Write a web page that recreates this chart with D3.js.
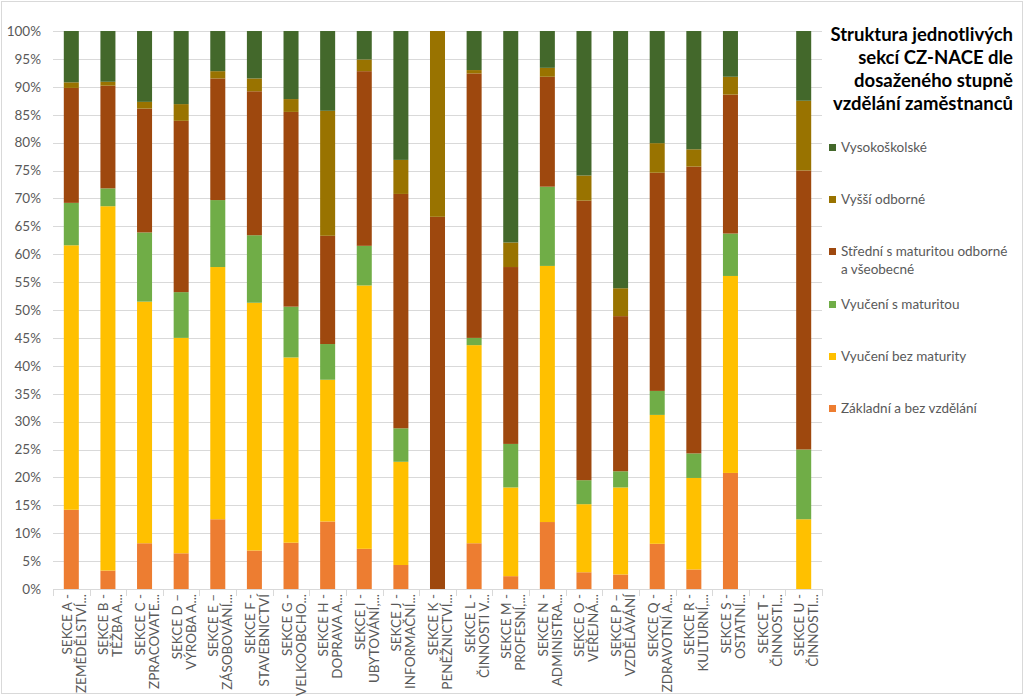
<!DOCTYPE html>
<html><head><meta charset="utf-8">
<script src="https://cdnjs.cloudflare.com/ajax/libs/d3/7.8.5/d3.min.js"></script>
<style>
html,body{margin:0;padding:0;background:#fff;}
svg{display:block;font-family:Lato,"Open Sans",sans-serif;}
</style></head>
<body><svg id="c" width="1024" height="696"></svg>
<script>
// categories (CZ-NACE sections) and their two-line axis labels
const codes = ["A","B","C","D","E","F","G","H","I","J","K","L","M","N","O","P","Q","R","S","T","U"];
const labelLine1 = ["SEKCE A -","SEKCE B -","SEKCE C -","SEKCE D –","SEKCE E –","SEKCE F -","SEKCE G -","SEKCE H -","SEKCE I -","SEKCE J -","SEKCE K -","SEKCE L -","SEKCE M -","SEKCE N -","SEKCE O -","SEKCE P –","SEKCE Q -","SEKCE R -","SEKCE S -","SEKCE T -","SEKCE U -"];
const labelLine2 = ["ZEMĚDĚLSTVÍ...","TĚŽBA A...","ZPRACOVATE...","VÝROBA A...","ZÁSOBOVÁNÍ...","STAVEBNICTVÍ","VELKOOBCHO...","DOPRAVA A...","UBYTOVÁNÍ,...","INFORMAČNÍ...","PENĚŽNICTVÍ...","ČINNOSTI V...","PROFESNÍ,...","ADMINISTRA...","VEŘEJNÁ...","VZDĚLÁVÁNÍ","ZDRAVOTNÍ A...","KULTURNÍ,...","OSTATNÍ...","ČINNOSTI...","ČINNOSTI..."];

// series values (percent), stacked bottom to top
const zakladni      = [14.2, 3.3, 8.2, 6.4,12.5, 6.9, 8.3,12.1, 7.2, 4.3, 0.0, 8.2, 2.3,12.0, 3.0, 2.6, 8.1, 3.5,20.8,0, 0.0];
const vyuceniBez    = [47.4,65.3,43.3,38.6,45.2,44.4,33.2,25.4,47.2,18.5, 0.0,35.5,15.9,45.9,12.2,15.6,23.1,16.4,35.3,0,12.5];
const vyuceniS      = [ 7.6, 3.2,12.4, 8.2,12.0,12.1, 9.1, 6.4, 7.1, 6.0, 0.0, 1.3, 7.8,14.2, 4.3, 2.9, 4.3, 4.4, 7.6,0,12.5];
const stredni       = [20.6,18.4,22.2,30.7,21.8,25.8,34.9,19.4,31.3,42.0,66.7,47.4,31.7,19.7,50.1,27.8,39.1,51.4,24.9,0,50.0];
const vyssi         = [ 1.0, 0.7, 1.2, 3.0, 1.3, 2.3, 2.3,22.4, 2.1, 6.1,33.3, 0.6, 4.4, 1.6, 4.5, 5.0, 5.3, 3.1, 3.2,0,12.5];
const vysokoskolske = [ 9.2, 9.1,12.7,13.1, 7.2, 8.5,12.2,14.3, 5.1,23.1, 0.0, 7.0,37.9, 6.6,25.9,46.1,20.1,21.2, 8.2,0,12.5];

const seriesNames = ["Základní a bez vzdělání","Vyučení bez maturity","Vyučení s maturitou","Střední s maturitou odborné a všeobecné","Vyšší odborné","Vysokoškolské"];
const seriesColors = ["#ED7D31","#FFC000","#70AD47","#9E480E","#997300","#43682B"];
const yTicks = [0,0.05,0.10,0.15,0.20,0.25,0.30,0.35,0.40,0.45,0.50,0.55,0.60,0.65,0.70,0.75,0.80,0.85,0.90,0.95,1.0];
const titleLines = ["Struktura jednotlivých","sekcí CZ-NACE dle","dosaženého stupně","vzdělání zaměstnanců"];

const seriesArrays = [zakladni, vyuceniBez, vyuceniS, stredni, vyssi, vysokoskolske];
const rows = codes.map((c,i)=>{ const r={code:c}; seriesNames.forEach((s,k)=>r[s]=seriesArrays[k][i]); return r; });

const svg = d3.select("#c");
const textCol = "#595959";
const pLeft=53, pRight=822, pTop=31, pBottom=589;

svg.append("rect").attr("x",1.5).attr("y",1.5).attr("width",1021).attr("height",692)
  .attr("fill","#fff").attr("stroke","#d9d9d9");

const x = d3.scaleBand().domain(codes).range([pLeft,pRight]).paddingInner(0.59).paddingOuter(0.295);
const y = d3.scaleLinear().domain([0,1]).range([pBottom,pTop]);

// gridlines
svg.append("g").selectAll("line").data(yTicks.slice(1)).join("line")
  .attr("x1",pLeft).attr("x2",pRight)
  .attr("y1",d=>Math.round(y(d))+0.5).attr("y2",d=>Math.round(y(d))+0.5)
  .attr("stroke","#d9d9d9").attr("stroke-width",1);

// y axis labels
const yAxis = d3.axisLeft(y).tickValues(yTicks).tickFormat(d3.format(".0%")).tickSize(0).tickPadding(0);
const yg = svg.append("g").attr("transform",`translate(41,0)`).call(yAxis);
yg.select(".domain").remove();
yg.selectAll("text").attr("font-size",13.5).attr("fill",textCol).attr("font-family","Lato");

// stacked bars
const stack = d3.stack().keys(seriesNames).value((d,k)=>d[k]/100);
const stacked = stack(rows);
svg.append("g").selectAll("g").data(stacked).join("g")
  .attr("fill",(d,i)=>seriesColors[i])
  .selectAll("rect").data(d=>d).join("rect")
  .attr("x",d=>x(d.data.code))
  .attr("width",x.bandwidth())
  .attr("y",d=>y(d[1]))
  .attr("height",d=>Math.max(0,y(d[0])-y(d[1])));

// x axis line and ticks at category boundaries
svg.append("line").attr("x1",pLeft).attr("x2",pRight).attr("y1",pBottom+0.5).attr("y2",pBottom+0.5)
  .attr("stroke","#d9d9d9");
const step = x.step();
const bounds = d3.range(codes.length+1).map(i=>pLeft + i*step);
svg.append("g").selectAll("line").data(bounds).join("line")
  .attr("x1",d=>Math.round(d)+0.5).attr("x2",d=>Math.round(d)+0.5)
  .attr("y1",pBottom).attr("y2",pBottom+7).attr("stroke","#d9d9d9");

// category labels (rotated)
const lg = svg.append("g").selectAll("g").data(codes).join("g")
  .attr("transform",d=>`translate(${x(d)+x.bandwidth()/2},594) rotate(-90)`);
lg.append("text").attr("y",-4.5).attr("dominant-baseline","central").attr("text-anchor","end")
  .attr("font-size",13.5).attr("fill",textCol).text((d,i)=>labelLine1[i]);
lg.append("text").attr("y",9.5).attr("dominant-baseline","central").attr("text-anchor","end")
  .attr("font-size",13.5).attr("fill",textCol).text((d,i)=>labelLine2[i]);

// title
svg.append("g").selectAll("text").data(titleLines).join("text")
  .attr("x",1013).attr("y",(d,i)=>40.5+i*23).attr("text-anchor","end")
  .attr("font-size",18.5).attr("font-weight","bold").attr("fill","#000").text(d=>d);

// legend (top to bottom: Vysokoškolské ... Základní)
const legendOrder = d3.range(seriesNames.length).reverse();
const legendY = [147,199,251,304,356,408];
const leg = svg.append("g").selectAll("g").data(legendOrder).join("g")
  .attr("transform",(k,i)=>`translate(829,${legendY[i]})`);
leg.append("rect").attr("x",0).attr("y",-3).attr("width",7).attr("height",7).attr("fill",k=>seriesColors[k]);
leg.each(function(k){
  const g = d3.select(this);
  const name = seriesNames[k];
  const lines = name.startsWith("Střední") ? ["Střední s maturitou odborné","a všeobecné"] : [name];
  lines.forEach((l,j)=>g.append("text").attr("x",12).attr("y",j*18).attr("dominant-baseline","central")
    .attr("font-size",13.5).attr("fill",textCol).text(l));
});
</script></body></html>
